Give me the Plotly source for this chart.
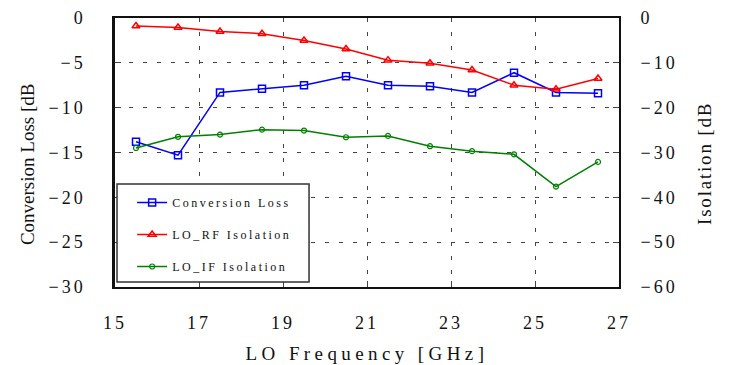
import plotly.graph_objects as go

freq = [15.5, 16.5, 17.5, 18.5, 19.5, 20.5, 21.5, 22.5, 23.5, 24.5, 25.5, 26.5]
conv_loss = [-13.8, -15.3, -8.3, -7.9, -7.5, -6.5, -7.5, -7.6, -8.3, -6.1, -8.3, -8.4]
lo_rf_iso = [-1.8, -2.1, -3.0, -3.5, -5.0, -6.9, -9.4, -10.1, -11.6, -15.0, -15.9, -13.5]
lo_if_iso = [-29.0, -26.5, -26.0, -24.9, -25.1, -26.6, -26.3, -28.6, -29.7, -30.4, -37.6, -32.1]

x_ticks = [15, 17, 19, 21, 23, 25, 27]
y1_ticks = [0, -5, -10, -15, -20, -25, -30]
y2_ticks = [0, -10, -20, -30, -40, -50, -60]

serif = "Liberation Serif"
grid = dict(showgrid=True, gridcolor="#444444", griddash="4px,10px", gridwidth=1)

fig = go.Figure()
fig.add_trace(go.Scatter(x=freq, y=conv_loss, name="Conversion Loss", mode="lines+markers",
                         line=dict(color="#0000ff", width=1.5),
                         marker=dict(symbol="square-open", size=7, color="#0000ff", line=dict(width=1.5)),
                         legendgroup="a"))
fig.add_trace(go.Scatter(x=freq, y=lo_rf_iso, name="LO_RF Isolation", mode="lines+markers", yaxis="y2",
                         line=dict(color="#ff0000", width=1.5),
                         marker=dict(symbol="triangle-up-open", size=7, color="#ff0000", line=dict(width=1.5)),
                         legendgroup="b"))
fig.add_trace(go.Scatter(x=freq, y=lo_if_iso, name="LO_IF Isolation", mode="lines+markers", yaxis="y2",
                         line=dict(color="#008000", width=1.5),
                         marker=dict(symbol="circle-open", size=5, color="#008000", line=dict(width=1.2)),
                         legendgroup="c"))

fig.update_layout(
    width=733, height=365,
    margin=dict(l=115, r=114, t=18, b=78),
    paper_bgcolor="white", plot_bgcolor="white",
    font=dict(family=serif, color="#111111", size=18),
    xaxis=dict(range=[15, 27], tickvals=x_ticks, ticks="inside", ticklen=6, tickcolor="#444",
               showline=True, linecolor="#111", linewidth=2, mirror=True, automargin=False,
               ticklabelstandoff=18, zeroline=False,
               title=dict(text="LO Frequency [GHz]", standoff=15, font=dict(size=19)), **grid),
    yaxis=dict(range=[-30, 0], tickvals=y1_ticks, ticks="inside", ticklen=6, tickcolor="#444",
               showline=True, linecolor="#111", linewidth=2.5, zeroline=False, automargin=False,
               ticklabelstandoff=23, **grid),
    yaxis2=dict(range=[-60, 0], tickvals=y2_ticks, overlaying="y", side="right",
                ticks="inside", ticklen=6, tickcolor="#444", automargin=False,
                showline=True, linecolor="#111", linewidth=2, zeroline=False, showgrid=False,
                ticklabelstandoff=16),
    showlegend=True,
    legend=dict(x=0.034, y=0.368, xanchor="left", yanchor="top",
                bgcolor="rgba(0,0,0,0)", borderwidth=0,
                font=dict(family=serif, size=12), tracegroupgap=13,
                traceorder="grouped"),
    shapes=[dict(type="rect", xref="paper", yref="paper", x0=0.004, x1=0.385, y0=0.019, y1=0.383,
                 line=dict(color="#333", width=1.5), fillcolor="white", layer="above")],
    annotations=[
        dict(text="Conversion Loss [dB", xref="paper", yref="paper", x=-0.1746, y=0.457,
             textangle=-90, showarrow=False, xanchor="center", yanchor="middle",
             font=dict(family=serif, size=19, color="#111")),
        dict(text="Isolation [dB", xref="paper", yref="paper", x=1.1687, y=0.46,
             textangle=-90, showarrow=False, xanchor="center", yanchor="middle",
             font=dict(family=serif, size=19, color="#111")),
    ],
)

post = """
var s=document.createElement('style');
s.innerHTML='.xtick text,.ytick text,.y2tick text{letter-spacing:3px}'+
 '.g-xtitle text{letter-spacing:4.4px}'+
 '.legendtext{letter-spacing:2.5px}'+
 '.annotation[data-index="1"] text{letter-spacing:1.8px}'+
 '.legend .scrollbox{clip-path:none !important}';
document.head.appendChild(s);
document.body.style.margin='0';
"""

fig.write_html("out.html", post_script=post, config={"displayModeBar": False})
